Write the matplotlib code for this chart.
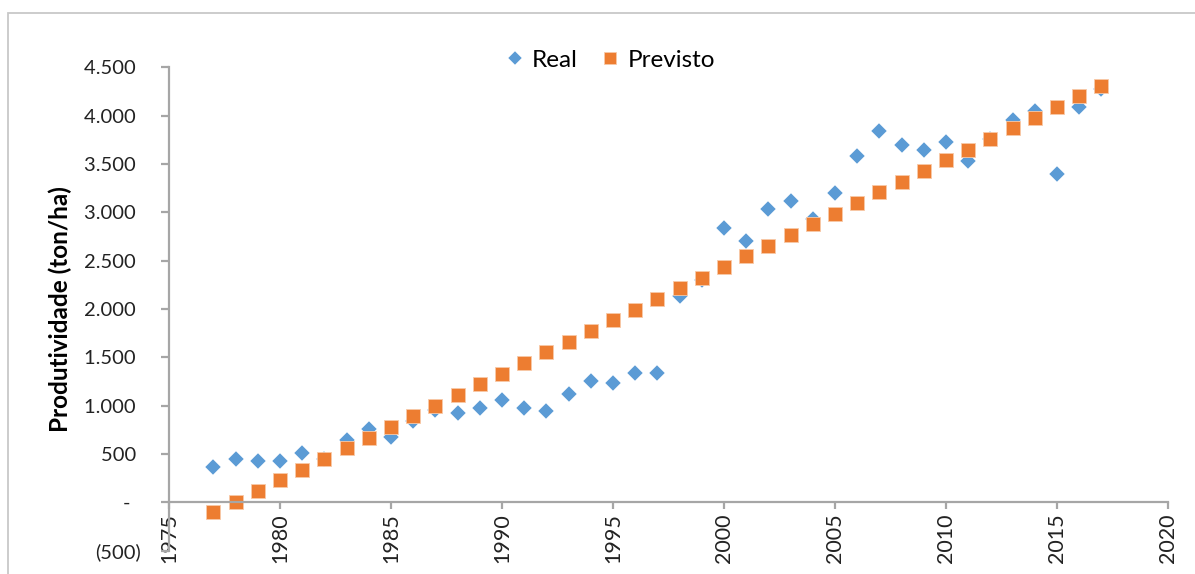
import numpy as np
import matplotlib.pyplot as plt
from matplotlib.patches import Rectangle
from matplotlib.ticker import FuncFormatter

plt.rcParams['font.family'] = ['Lato', 'DejaVu Sans']

# anos e produtividade (ton/ha)
anos = list(range(1977, 2018))

real = [370, 450, 426, 426, 509, 450, 648, 759, 676, 838,
        952, 925, 977, 1063, 977, 949, 1118, 1254, 1230, 1341,
        1341, 2137, 2304, 2838, 2703, 3031, 3114, 2935, 3202, 3586,
        3836, 3697, 3641, 3725, 3531, 3756, 3957, 4044, 3395, 4085,
        4276]

previsto = [-104, 6, 117, 227, 338, 448, 558, 669, 779, 889,
            1000, 1110, 1221, 1331, 1441, 1552, 1662, 1772, 1883, 1993,
            2103, 2214, 2324, 2434, 2545, 2655, 2765, 2876, 2986, 3096,
            3206, 3317, 3427, 3537, 3648, 3758, 3868, 3979, 4089, 4199,
            4310]

azul = '#5B9BD5'
laranja = '#ED7D31'
cinza = '#A6A6A6'

fig = plt.figure(figsize=(11.95, 5.74), dpi=100)
ax = fig.add_axes([169/1195, 1 - 550.6/574, 999/1195, (550.6 - 67.3)/574])

ax.plot(anos, real, linestyle='none', marker='D', ms=8.3, color=azul,
        mec='white', mew=0.3, label='Real')
ax.plot(anos, previsto, linestyle='none', marker='s', ms=10, color=laranja,
        mec='#F8C9A8', mew=0.6, label='Previsto')

ax.set_xlim(1975, 2020)
ax.set_ylim(-500, 4500)
ax.set_xticks(range(1975, 2021, 5))
ax.set_yticks(range(-500, 4501, 500))

# formato contabil: milhar com ponto, zero como traco, negativo entre parenteses
def fmt(v, pos):
    if v == 0:
        return '-  '
    if v < 0:
        return '(%s)' % format(int(-v), ',').replace(',', '.')
    return format(int(v), ',').replace(',', '.') + ' '

ax.yaxis.set_major_formatter(FuncFormatter(fmt))

ax.spines['bottom'].set_position(('data', 0))
ax.spines['top'].set_visible(False)
ax.spines['right'].set_visible(False)
for s in ('left', 'bottom'):
    ax.spines[s].set_color(cinza)
    ax.spines[s].set_linewidth(1.6)

ax.tick_params(axis='y', direction='out', length=6, width=1.6, color=cinza,
               labelsize=14.5, pad=14, labelcolor='#222222')
ax.tick_params(axis='x', direction='out', length=5, width=1.6, color=cinza,
               labelsize=15.5, pad=3, labelrotation=90, labelcolor='#222222')

ax.set_ylabel('Produtividade (ton/ha)', fontsize=17.5, fontweight='bold')
ax.yaxis.set_label_coords(-0.097, 0.5)

fig.legend(loc='center', bbox_to_anchor=(0.511, 0.895), ncol=2, frameon=False,
           fontsize=17.5, handlelength=0.7, handletextpad=0.35,
           columnspacing=1.0, markerscale=0.9)

# moldura do grafico
fig.patches.append(Rectangle((8/1195, -0.1), 1.2, 1 - 13/574 + 0.1,
                             transform=fig.transFigure, fill=False,
                             edgecolor='#C8C8C8', linewidth=1.3))

fig.savefig('out.png', dpi=100)
